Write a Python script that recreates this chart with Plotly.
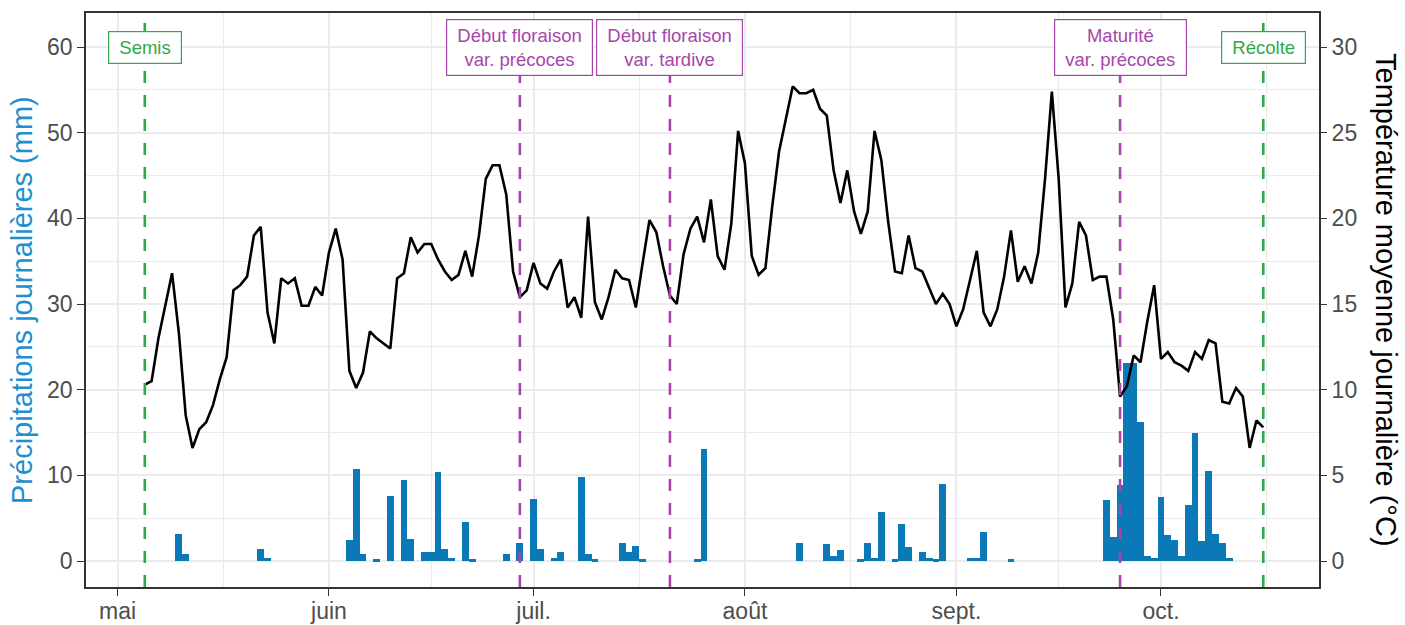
import pandas as pd
import plotly.graph_objects as go

# ---------------- data ----------------
temp_start = "2022-05-05"
temp_values = [
    10.3, 10.5, 13.0, 14.9, 16.8, 13.3, 8.5, 6.6, 7.7, 8.1,
    9.1, 10.6, 11.9, 15.8, 16.1, 16.6, 19.0, 19.5, 14.5, 12.7,
    16.5, 16.2, 16.5, 14.9, 14.9, 16.0, 15.5, 18.0, 19.4, 17.6,
    11.1, 10.1, 11.0, 13.4, 13.0, 12.7, 12.4, 16.5, 16.8, 18.9,
    18.0, 18.5, 18.5, 17.6, 16.9, 16.4, 16.7, 18.1, 16.6, 19.0,
    22.3, 23.1, 23.1, 21.4, 16.9, 15.4, 15.8, 17.4, 16.2, 15.9,
    16.9, 17.6, 14.8, 15.4, 14.2, 20.1, 15.1, 14.1, 15.4, 17.0,
    16.5, 16.4, 14.8, 17.4, 19.9, 19.2, 17.2, 15.5, 15.0, 17.9,
    19.4, 20.1, 18.6, 21.1, 17.8, 17.0, 19.7, 25.1, 23.2, 17.8,
    16.7, 17.1, 20.7, 23.9, 25.75, 27.7, 27.3, 27.3, 27.5, 26.4,
    26.0, 22.8, 20.9, 22.8, 20.4, 19.1, 20.4, 25.1, 23.4, 19.8,
    16.9, 16.8, 19.0, 17.1, 16.9, 16.0, 15.0, 15.6, 15.0, 13.7,
    14.7, 16.4, 18.1, 14.5, 13.7, 14.7, 16.6, 19.3, 16.3, 17.2,
    16.2, 18.0, 22.3, 27.4, 22.3, 14.8, 16.2, 19.8, 19.0, 16.4,
    16.6, 16.6, 14.1, 9.6, 10.2, 12.0, 11.6, 14.0, 16.1, 11.8,
    12.2, 11.6, 11.4, 11.1, 12.2, 11.8, 12.9, 12.7, 9.3, 9.2,
    10.1, 9.6, 6.6, 8.2, 7.8,
]

precip_dates = [
    "2022-05-10", "2022-05-11", "2022-05-22", "2022-05-23",
    "2022-06-04", "2022-06-05", "2022-06-06", "2022-06-08", "2022-06-10",
    "2022-06-12", "2022-06-13", "2022-06-15", "2022-06-16", "2022-06-17",
    "2022-06-18", "2022-06-19", "2022-06-21", "2022-06-22", "2022-06-27",
    "2022-06-29", "2022-07-01", "2022-07-02", "2022-07-04", "2022-07-05",
    "2022-07-08", "2022-07-09", "2022-07-10", "2022-07-14", "2022-07-15",
    "2022-07-16", "2022-07-17", "2022-07-25", "2022-07-26",
    "2022-08-09", "2022-08-13", "2022-08-14", "2022-08-15", "2022-08-18",
    "2022-08-19", "2022-08-20", "2022-08-21", "2022-08-23", "2022-08-24",
    "2022-08-25", "2022-08-27", "2022-08-28", "2022-08-29", "2022-08-30",
    "2022-09-03", "2022-09-04", "2022-09-05", "2022-09-09",
    "2022-09-23", "2022-09-24", "2022-09-25", "2022-09-26", "2022-09-27",
    "2022-09-28", "2022-09-29", "2022-09-30", "2022-10-01", "2022-10-02",
    "2022-10-03", "2022-10-04", "2022-10-05", "2022-10-06", "2022-10-07",
    "2022-10-08", "2022-10-09", "2022-10-10", "2022-10-11",
]
precip_values = [
    3.1, 0.8, 1.4, 0.4,
    2.4, 10.7, 0.8, 0.2, 7.6,
    9.5, 2.6, 1.0, 1.0, 10.4,
    1.4, 0.3, 4.5, 0.2, 0.8,
    2.1, 7.3, 1.4, 0.3, 1.05,
    9.8, 0.8, 0.2, 2.1, 1.0,
    1.7, 0.2, 0.2, 13.1,
    2.1, 2.0, 0.6, 1.3, 0.2,
    2.1, 0.3, 5.7, 0.2, 4.3,
    1.6, 1.05, 0.4, 0.2, 9.0,
    0.3, 0.3, 3.4, 0.2,
    7.1, 2.8, 8.9, 23.1, 23.1,
    16.2, 0.6, 0.3, 7.5, 3.0,
    2.4, 0.6, 6.5, 14.9, 2.3,
    10.5, 3.2, 2.1, 0.3,
]

event_dates = ["2022-05-05", "2022-06-29", "2022-07-21", "2022-09-25", "2022-10-16"]
event_labels = [["Semis"], ["Début floraison", "var. précoces"], ["Début floraison", "var. tardive"],
                ["Maturité", "var. précoces"], ["Récolte"]]
event_kinds = ["stade", "floraison", "floraison", "floraison", "stade"]
label_y = 60

month_ticks = ["2022-05-01", "2022-06-01", "2022-07-01", "2022-08-01", "2022-09-01", "2022-10-01"]
month_labels = ["mai", "juin", "juil.", "août", "sept.", "oct."]
precip_ticks = [0, 10, 20, 30, 40, 50, 60]
temp_ticks = [0, 5, 10, 15, 20, 25, 30]

# ---------------- styles ----------------
BAR_COLOR = "#0B78B8"
TITLE_BLUE = "#1E8FCF"
GREEN = "#2EAA4A"
PURPLE = "#A845AB"
GRID = "#EBEBEB"
FRAME = "#333333"
TICKTXT = "#4D4D4D"
FONT = "Liberation Sans, Arial, sans-serif"
colors = {"stade": GREEN, "floraison": PURPLE}
NB = "\u00a0"

temp_dates = pd.date_range(temp_start, periods=len(temp_values), freq="D")
base = pd.Timestamp(month_ticks[0])
x_range = [base + pd.Timedelta(days=-4.62), base + pd.Timedelta(days=176.17)]

mt = pd.to_datetime(month_ticks)
nxt = list(mt[1:]) + [mt[-1] + pd.DateOffset(months=1)]
minor_ticks = [a + (b - a) / 2 for a, b in zip(mt, nxt)]

y_range = [-3.03, 63.97]

L, R, T, B = 86, 86, 13, 38
PW = 1405 - L - R

fig = go.Figure()
fig.add_trace(go.Bar(
    x=pd.to_datetime(precip_dates), y=precip_values,
    width=86400000, marker=dict(color=BAR_COLOR, line=dict(width=0)),
    yaxis="y", showlegend=False,
))
fig.add_trace(go.Scatter(
    x=temp_dates, y=temp_values, mode="lines",
    line=dict(color="black", width=2.6), yaxis="y2", showlegend=False,
))

shapes = []
annotations = []
for d, lab, kind in zip(event_dates, event_labels, event_kinds):
    c = colors[kind]
    shapes.append(dict(type="line", xref="x", yref="paper", x0=d, x1=d, y0=0, y1=1,
                       line=dict(color=c, width=2.6, dash="12px,12px"), layer="above"))
    txt = "<br>".join(NB + s + NB for s in lab)
    annotations.append(dict(x=d, y=label_y, xref="x", yref="y", text=txt, showarrow=False,
                            font=dict(family=FONT, size=18.5, color=c),
                            bgcolor="white", bordercolor=c, borderwidth=1.2, borderpad=5,
                            align="center"))

annotations.append(dict(text="Précipitations journalières (mm)", xref="paper", yref="paper",
                        x=(22 - L) / PW, y=0.5, xanchor="center", yanchor="middle",
                        textangle=-90, showarrow=False,
                        font=dict(family=FONT, size=29, color=TITLE_BLUE)))
annotations.append(dict(text="Température moyenne journalière (°C)", xref="paper", yref="paper",
                        x=(1386 - L) / PW, y=0.5, xanchor="center", yanchor="middle",
                        textangle=90, showarrow=False,
                        font=dict(family=FONT, size=29, color="black")))

fig.update_layout(
    width=1405, height=625,
    margin=dict(l=L, r=R, t=T, b=B, autoexpand=False),
    paper_bgcolor="white", plot_bgcolor="white",
    bargap=0,
    font=dict(family=FONT, color=TICKTXT),
    shapes=shapes, annotations=annotations,
    xaxis=dict(
        type="date", range=x_range,
        tickmode="array", tickvals=mt, ticktext=month_labels,
        tickfont=dict(size=23, color=TICKTXT),
        ticks="outside", ticklen=7, tickwidth=1.4, tickcolor=FRAME,
        ticklabelstandoff=-4,
        showgrid=True, gridcolor=GRID, gridwidth=1.6,
        minor=dict(tickmode="array", tickvals=minor_ticks, showgrid=True,
                   gridcolor=GRID, gridwidth=0.9, ticks=""),
        showline=True, linecolor=FRAME, linewidth=1.5, mirror=True,
        zeroline=False,
    ),
    yaxis=dict(
        range=y_range, tickmode="array", tickvals=precip_ticks,
        tickfont=dict(size=23, color=TICKTXT),
        ticks="outside", ticklen=7, tickwidth=1.4, tickcolor=FRAME,
        showgrid=True, gridcolor=GRID, gridwidth=1.6,
        minor=dict(dtick=5, tick0=0, showgrid=True, gridcolor=GRID, gridwidth=0.9, ticks=""),
        showline=True, linecolor=FRAME, linewidth=1.5, mirror=True,
        zeroline=False,
    ),
    yaxis2=dict(
        overlaying="y", side="right",
        range=[v / 2 for v in y_range], tickmode="array", tickvals=temp_ticks,
        tickfont=dict(size=23, color=TICKTXT),
        ticks="outside", ticklen=7, tickwidth=1.4, tickcolor=FRAME,
        showgrid=False, zeroline=False, showline=False,
    ),
)

fig.write_html(
    "out.html",
    config={"displayModeBar": False},
    post_script="document.body.style.margin='0';document.body.style.overflow='hidden';",
)
